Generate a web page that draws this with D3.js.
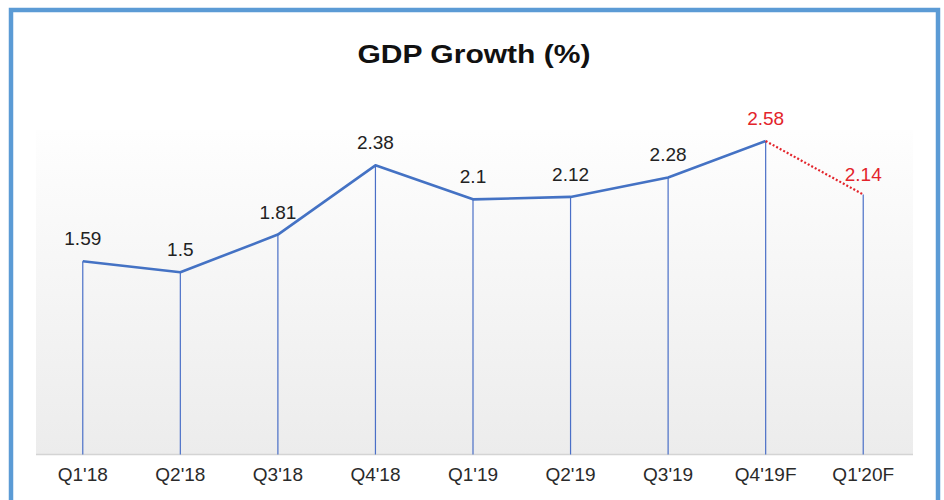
<!DOCTYPE html>
<html>
<head>
<meta charset="utf-8">
<script src="https://cdn.jsdelivr.net/npm/d3@7"></script>
<style>
  body { margin: 0; background: #fff; }
  text { font-family: "Liberation Sans", Arial, sans-serif; }
</style>
</head>
<body>
<svg id="chart" width="944" height="500"></svg>
<script>
// quarters and GDP growth values
var quarters = ["Q1'18", "Q2'18", "Q3'18", "Q4'18", "Q1'19", "Q2'19", "Q3'19", "Q4'19F", "Q1'20F"]
var growth = [1.59, 1.5, 1.81, 2.38, 2.1, 2.12, 2.28, 2.58, 2.14]
// the last point is a forecast, drawn with a red dotted segment
var forecastFrom = 7

var svg = d3.select('#chart')

var defs = svg.append('defs')
var grad = defs.append('linearGradient')
  .attr('id', 'bg').attr('x1', 0).attr('y1', 0).attr('x2', 0).attr('y2', 1)
grad.append('stop').attr('offset', '0%').attr('stop-color', '#fefefe')
grad.append('stop').attr('offset', '100%').attr('stop-color', '#ececec')

var x = d3.scaleBand().domain(quarters).range([34, 912])
var y = d3.scaleLinear().domain([0, 3]).range([454.5, 90])

function cx(d, i) { return x(quarters[i]) + x.bandwidth() / 2 }

// plot area background
svg.append('rect')
  .attr('x', 36).attr('y', 130)
  .attr('width', 877).attr('height', y(0) - 130)
  .attr('fill', 'url(#bg)')

// baseline
svg.append('line')
  .attr('x1', 36).attr('x2', 913)
  .attr('y1', y(0)).attr('y2', y(0))
  .attr('stroke', '#d4d4d4').attr('stroke-width', 1.5)

// drop lines
svg.append('g').selectAll('line')
  .data(growth)
  .enter().append('line')
    .attr('x1', cx).attr('x2', cx)
    .attr('y1', function (d) { return y(d) })
    .attr('y2', y(0))
    .attr('stroke', '#4a6fc7').attr('stroke-width', 1.2)

var line = d3.line()
  .x(function (d) { return x(d.q) + x.bandwidth() / 2 })
  .y(function (d) { return y(d.v) })

var pts = growth.map(function (v, i) { return { q: quarters[i], v: v } })

svg.append('path')
  .datum(pts.slice(0, forecastFrom + 1))
  .attr('d', line)
  .attr('fill', 'none')
  .attr('stroke', '#4472c4').attr('stroke-width', 2.6)
  .attr('stroke-linejoin', 'round')

svg.append('path')
  .datum(pts.slice(forecastFrom))
  .attr('d', line)
  .attr('fill', 'none')
  .attr('stroke', '#e3242b').attr('stroke-width', 2.2)
  .attr('stroke-dasharray', '2,2')

// value labels
svg.append('g').selectAll('text')
  .data(growth)
  .enter().append('text')
    .attr('x', cx)
    .attr('y', function (d, i) { return y(d) - (i == growth.length - 1 ? 13 : 16) })
    .attr('text-anchor', 'middle')
    .attr('font-size', 19)
    .attr('fill', function (d, i) { return i >= forecastFrom ? '#e3242b' : '#222' })
    .text(function (d) { return d })

// x axis labels
var xAxis = d3.axisBottom(x).tickSize(0).tickPadding(10)
var ax = svg.append('g')
  .attr('transform', 'translate(0,' + y(0) + ')')
  .call(xAxis)
ax.select('.domain').remove()
ax.selectAll('text')
  .attr('font-size', 19)
  .attr('font-family', '"Liberation Sans", Arial, sans-serif')
  .attr('fill', '#2a2a2a')
  .attr('dy', '0.71em')
  .attr('y', 13)

// title
svg.append('text')
  .attr('x', 474).attr('y', 63)
  .attr('text-anchor', 'middle')
  .attr('font-size', 25)
  .attr('font-weight', 'bold')
  .attr('fill', '#111')
  .attr('textLength', 233)
  .attr('lengthAdjust', 'spacingAndGlyphs')
  .text('GDP Growth (%)')

// outer frame
svg.append('rect')
  .attr('x', 11).attr('y', 10)
  .attr('width', 927).attr('height', 520)
  .attr('fill', 'none')
  .attr('stroke', '#5b9bd5').attr('stroke-width', 4.5)
</script>
</body>
</html>
